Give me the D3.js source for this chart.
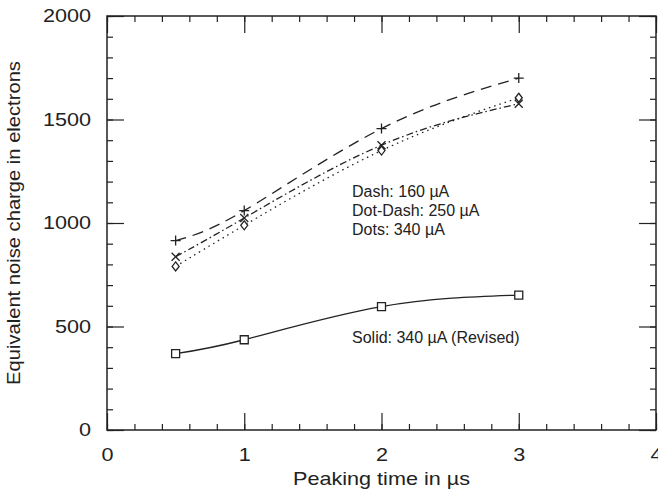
<!DOCTYPE html>
<html>
<head>
<meta charset="utf-8">
<script src="https://cdn.jsdelivr.net/npm/d3@7"></script>
<style>
  body { margin: 0; background: #fff; }
  svg { font-family: "Liberation Sans", Arial, sans-serif; }
  .axis path { display: none; }
  .axis line { stroke: #222; stroke-width: 1.2; }
</style>
</head>
<body>
<svg id="chart" width="658" height="500"></svg>
<script>
// Peaking time (us)
var peakingTimes = [0.5, 1, 2, 3];
// ENC in electrons for each preamp current
var dash160 = [915, 1060, 1456, 1700];
var dotDash250 = [837, 1024, 1376, 1576];
var dots340 = [790, 989, 1350, 1605];
var solid340Revised = [369, 436, 596, 652];

var xMajor = [0, 1, 2, 3, 4];
var xMinor = d3.range(0, 4.01, 0.2);
var yMajor = [0, 500, 1000, 1500, 2000];
var yMinor = d3.range(0, 2001, 100);

var annotationLines = ["Dash: 160 \u00b5A", "Dot-Dash: 250 \u00b5A", "Dots: 340 \u00b5A"];
var solidLabel = "Solid: 340 \u00b5A (Revised)";

const W = 658, H = 500;
const margin = {top: 16, right: 2, bottom: 70, left: 107};
const iw = W - margin.left - margin.right;
const ih = H - margin.top - margin.bottom;
const STRETCH = 1.2;

let svg = d3.select("#chart");
let g = svg.append("g")
  .attr("transform", "translate(" + margin.left + "," + margin.top + ")");

let x = d3.scaleLinear().domain([0, 4]).range([0, iw]);
let y = d3.scaleLinear().domain([0, 2000]).range([ih, 0]);

// Inward ticks on all four sides
function ticks(axisFn, scale, values, size, transform) {
  g.append("g")
    .classed("axis", true)
    .attr("transform", transform)
    .call(axisFn(scale).tickValues(values).tickSize(-size).tickFormat(""));
}
ticks(d3.axisBottom, x, xMinor, 6, "translate(0," + ih + ")");
ticks(d3.axisBottom, x, xMajor, 17, "translate(0," + ih + ")");
ticks(d3.axisTop, x, xMinor, 6, "translate(0,0)");
ticks(d3.axisTop, x, xMajor, 17, "translate(0,0)");
ticks(d3.axisLeft, y, yMinor, 6, "translate(0,0)");
ticks(d3.axisLeft, y, yMajor, 17, "translate(0,0)");
ticks(d3.axisRight, y, yMinor, 6, "translate(" + iw + ",0)");
ticks(d3.axisRight, y, yMajor, 17, "translate(" + iw + ",0)");

// Tick labels
let xl = g.append("g")
  .attr("transform", "translate(0," + ih + ")")
  .call(d3.axisBottom(x).tickValues(xMajor).tickSize(0).tickPadding(18).tickFormat(d3.format("d")));
xl.select(".domain").remove();
xl.selectAll("text")
  .attr("font-size", 18).attr("font-family", null).attr("fill", "#222")
  .attr("transform", "scale(" + STRETCH + ",1)");

let yl = g.append("g")
  .call(d3.axisLeft(y).tickValues(yMajor).tickSize(0).tickFormat(d3.format("d")));
yl.select(".domain").remove();
yl.selectAll("text")
  .attr("font-size", 18).attr("font-family", null).attr("fill", "#222")
  .attr("x", -16 / STRETCH)
  .attr("transform", "scale(" + STRETCH + ",1)");

// Frame
g.append("rect")
  .attr("width", iw).attr("height", ih)
  .attr("fill", "none").attr("stroke", "#222").attr("stroke-width", 1.5);

// Axis titles
svg.append("text")
  .attr("transform", "translate(" + (margin.left + iw / 2) + ",485) scale(" + STRETCH + ",1)")
  .attr("text-anchor", "middle").attr("font-size", 18).attr("fill", "#222")
  .text("Peaking time in \u00b5s");

svg.append("text")
  .attr("transform", "translate(20," + (margin.top + ih / 2) + ") rotate(-90) scale(1.12,1)")
  .attr("text-anchor", "middle").attr("font-size", 18).attr("fill", "#222")
  .text("Equivalent noise charge in electrons");

// Curves
let series = [
  {values: dash160, dash: "11,7", marker: "M-5,0H5M0,-5V5"},
  {values: dotDash250, dash: "7,3,1.5,3", marker: "M-4,-4L4,4M-4,4L4,-4"},
  {values: dots340, dash: "1.5,4", marker: "M0,-4.5L3.5,0L0,4.5L-3.5,0Z"},
  {values: solid340Revised, dash: null, marker: "M-4,-4H4V4H-4Z"}
];

let line = d3.line()
  .x((d, i) => x(peakingTimes[i]))
  .y(d => y(d))
  .curve(d3.curveNatural);

for (let s of series) {
  g.append("path")
    .datum(s.values)
    .attr("d", line)
    .attr("fill", "none")
    .attr("stroke", "#222")
    .attr("stroke-width", 1.3)
    .attr("stroke-dasharray", s.dash);

  g.selectAll(null)
    .data(s.values)
    .enter()
    .append("path")
    .attr("transform", (d, i) => "translate(" + x(peakingTimes[i]) + "," + y(d) + ")")
    .attr("d", s.marker)
    .attr("fill", "#fff")
    .attr("stroke", "#222")
    .attr("stroke-width", 1.3);
}

// Annotations
g.selectAll(".note")
  .data(annotationLines)
  .enter()
  .append("text")
  .classed("note", true)
  .attr("x", 352 - margin.left)
  .attr("y", (d, i) => 197 - margin.top + i * 19)
  .attr("font-size", 16).attr("fill", "#222")
  .text(d => d);

g.append("text")
  .attr("x", 352 - margin.left)
  .attr("y", 343 - margin.top)
  .attr("font-size", 16).attr("fill", "#222")
  .text(solidLabel);
</script>
</body>
</html>
